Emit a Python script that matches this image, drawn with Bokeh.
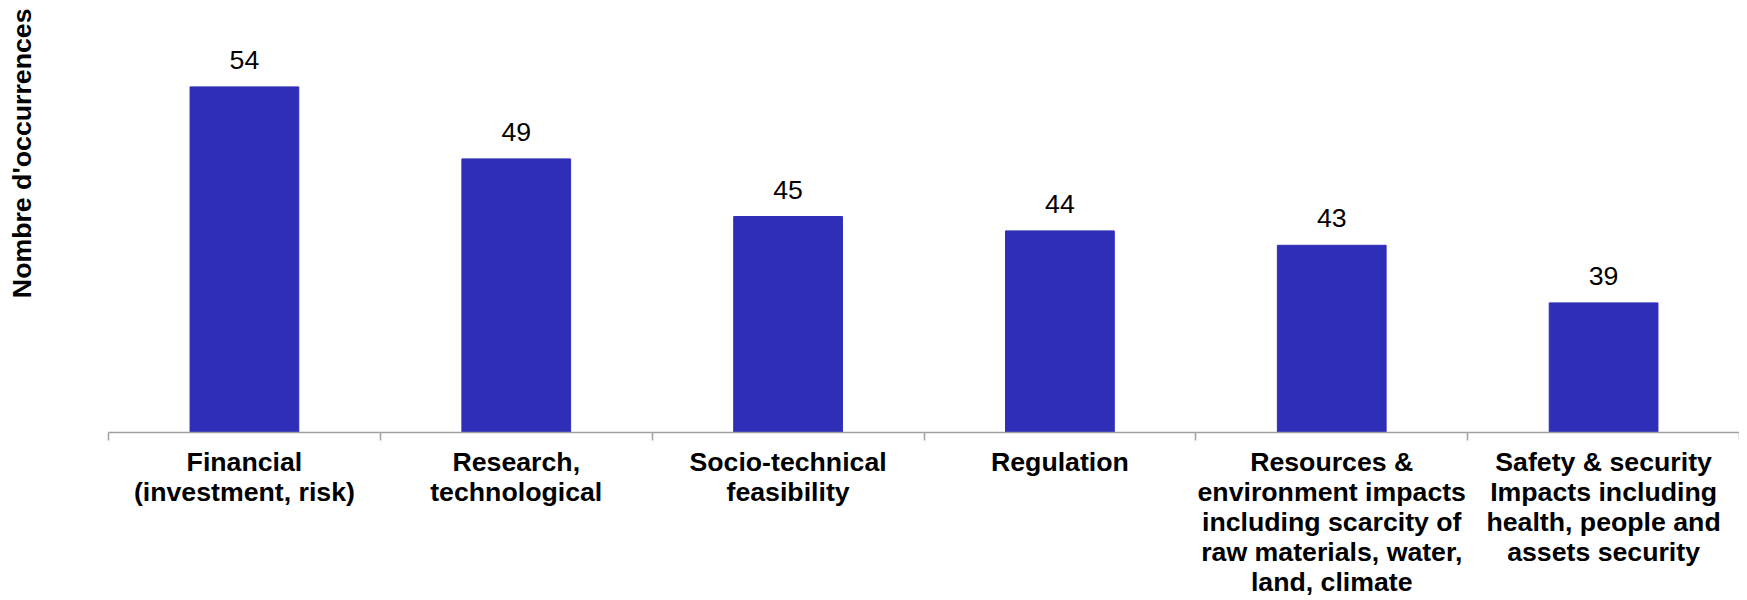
import numpy as np
from bokeh.plotting import figure
from bokeh.models import ColumnDataSource, Range1d, FixedTicker, Title
from bokeh.core.properties import value
from bokeh.embed import file_html
from bokeh.resources import INLINE

categories = [
    "Financial\n(investment, risk)",
    "Research,\ntechnological",
    "Socio-technical\nfeasibility",
    "Regulation",
    "Resources &\nenvironment impacts\nincluding scarcity of\nraw materials, water,\nland, climate",
    "Safety & security\nImpacts including\nhealth, people and\nassets security",
]
occurrences = [54, 49, 45, 44, 43, 39]
y_title = "Nombre d'occurrences"

FONT = "Liberation Sans"
BAR = "#2e2eb8"
AXIS = "#a0a0a0"
FS = "26.7px"

n = len(categories)
centers = list(np.arange(n) + 0.5)
bounds = list(np.arange(n + 1).astype(float))

src = ColumnDataSource(dict(x=centers, top=occurrences, label=[str(v) for v in occurrences]))

p = figure(
    frame_width=1631, frame_height=432,
    min_border_left=108, min_border_right=0, min_border_top=0, min_border_bottom=0,
    x_range=Range1d(0, n), y_range=Range1d(30, 60),
    output_backend="svg", toolbar_location=None,
)
p.outline_line_color = None
p.grid.visible = False
p.yaxis.visible = False

p.vbar(x="x", top="top", bottom=30, width=0.4, source=src,
       fill_color=BAR, line_color=BAR)

p.text(x="x", y="top", text="label", source=src, y_offset=-27,
       text_align="center", text_baseline="alphabetic",
       text_font=value(FONT), text_font_size=FS, text_color="#000000")

ax = p.xaxis[0]
ax.ticker = FixedTicker(ticks=centers, minor_ticks=bounds)
ax.major_label_overrides = {c: lab for c, lab in zip(centers, categories)}
ax.major_tick_line_color = None
ax.major_tick_out = 0
ax.major_tick_in = 0
ax.minor_tick_line_color = AXIS
ax.minor_tick_line_width = 1.5
ax.minor_tick_out = 8
ax.minor_tick_in = 0
ax.axis_line_color = AXIS
ax.axis_line_width = 1.5
ax.major_label_standoff = 6
ax.major_label_text_font = FONT
ax.major_label_text_font_size = FS
ax.major_label_text_font_style = "bold"
ax.major_label_text_color = "#000000"
ax.major_label_text_line_height = 1.0
ax.major_label_orientation = "horizontal"

# empty spacer panel between the frame and the vertical title
p.add_layout(Title(text=" ", standoff=40, text_font=FONT, text_font_size=FS), "left")
p.add_layout(Title(text=y_title, align="right", vertical_align="bottom",
                   standoff=0, offset=8,
                   text_font=FONT, text_font_size=FS, text_font_style="bold",
                   text_color="#000000"), "left")

open("out.html", "w").write(file_html(p, INLINE))
